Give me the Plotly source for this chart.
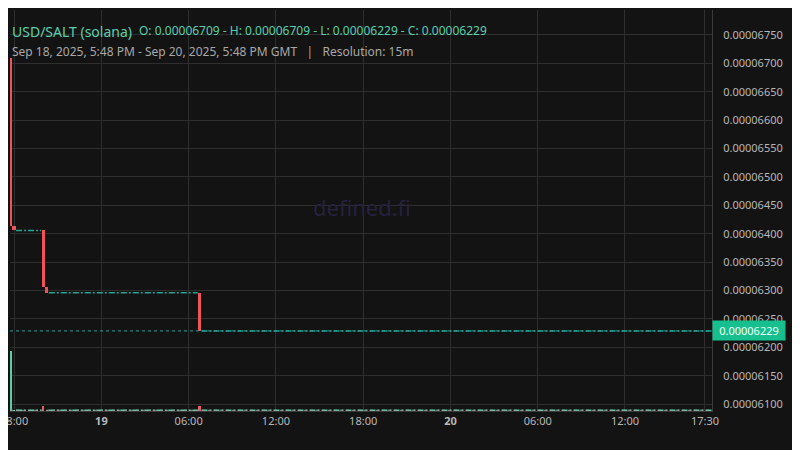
import pandas as pd
import plotly.graph_objects as go

# 15m candles that moved (all others were flat)
candle_time = ["2025-09-18 17:45", "2025-09-18 18:00", "2025-09-18 20:00",
               "2025-09-18 20:15", "2025-09-19 06:45"]
candle_open = [0.00006709, 0.00006414, 0.00006406, 0.00006307, 0.00006296]
candle_close = [0.00006414, 0.00006406, 0.00006307, 0.00006296, 0.00006229]
candle_volume = [1000, 4, 85, 6, 80]

# flat stretches (open = high = low = close, no volume)
flat_from = ["2025-09-18 18:08", "2025-09-18 20:23", "2025-09-19 06:53"]
flat_to = ["2025-09-18 19:52", "2025-09-19 06:37", "2025-09-20 17:58"]
flat_price = [0.00006406, 0.00006296, 0.00006229]
flat_volume = [0, 0, 0]

x_ticks = ["2025-09-18 18:00", "2025-09-19 00:00", "2025-09-19 06:00", "2025-09-19 12:00",
           "2025-09-19 18:00", "2025-09-20 00:00", "2025-09-20 06:00", "2025-09-20 12:00",
           "2025-09-20 17:30"]
x_labels = ["18:00", "<b>19</b>", "06:00", "12:00", "18:00", "<b>20</b>", "06:00", "12:00", "17:30"]

bg = "#131313"
grid = "#2e2e2e"
red = "#f0525a"
teal = "#22a396"
label_col = "#b8b8b8"

df = pd.DataFrame({"t": pd.to_datetime(candle_time), "o": candle_open,
                   "c": candle_close, "v": candle_volume})
df["lo"] = df[["o", "c"]].min(axis=1)
df["h"] = (df["o"] - df["c"]).abs()
bar_w = 15 * 60 * 1000 * 0.9

fig = go.Figure()

# flat candles show up as broken teal lines
for a, b, p in zip(flat_from, flat_to, flat_price):
    fig.add_trace(go.Scatter(x=[a, b], y=[p, p], mode="lines",
                             line=dict(color=teal, width=1.5, dash="6px,2px,2px,2px"),
                             hoverinfo="skip", showlegend=False))

fig.add_trace(go.Bar(x=df["t"], y=df["h"], base=df["lo"], width=bar_w,
                     marker=dict(color=[red if o > c else teal for o, c in zip(df["o"], df["c"])],
                                 line_width=0),
                     showlegend=False))

# volume overlay
fig.add_trace(go.Bar(x=df["t"], y=df["v"], width=bar_w * 0.7, yaxis="y2",
                     marker=dict(color=["#4fd1a5", "#4fd1a5", "#e0606e", "#e0606e", "#e0606e"],
                                 line_width=0),
                     showlegend=False))
for a, b, v in zip(flat_from, flat_to, flat_volume):
    fig.add_trace(go.Scatter(x=[a, b], y=[v + 12, v + 12], mode="lines", yaxis="y2",
                             line=dict(color="#4fd1a5", width=1.5, dash="6px,2px,2px,2px"),
                             hoverinfo="skip", showlegend=False))

last = candle_close[-1]
fig.add_shape(type="line", xref="paper", x0=0, x1=1, y0=last, y1=last,
              line=dict(color=teal, width=1, dash="dot"))
fig.add_shape(type="line", xref="paper", yref="y2", x0=0, x1=1, y0=12, y1=12,
              line=dict(color="#9a9a9a", width=1, dash="dot"))

# header box hides the grid behind the legend text
fig.add_shape(type="rect", xref="paper", yref="paper", x0=-0.02, x1=0.694, y0=0.888, y1=1.0,
              fillcolor=bg, line_width=0, layer="between")

fig.add_annotation(xref="paper", yref="y", x=1, y=last, xanchor="left", showarrow=False,
                   text=f"{last:.8f}", bgcolor="#17bf8e", borderpad=2, width=68, align="center",
                   font=dict(color="#f0fff8", size=11))

fig.add_annotation(xref="paper", yref="paper", x=0, y=0.975, xanchor="left", showarrow=False,
                   text="USD/SALT (solana)", font=dict(color="#5ccfae", size=14))
fig.add_annotation(xref="paper", yref="paper", x=0.181, y=0.974, xanchor="left", showarrow=False,
                   text=f"O: {max(candle_open):.8f} - H: {max(candle_open):.8f} - "
                        f"L: {min(candle_close):.8f} - C: {last:.8f}",
                   font=dict(color="#5ccfae", size=12))
fig.add_annotation(xref="paper", yref="paper", x=0, y=0.922, xanchor="left", showarrow=False,
                   text="Sep 18, 2025, 5:48 PM - Sep 20, 2025, 5:48 PM GMT&nbsp;&nbsp;&nbsp;|&nbsp;&nbsp;&nbsp;Resolution: 15m",
                   font=dict(color="#a8a8a8", size=12))
fig.add_annotation(xref="paper", yref="paper", x=0.501, y=0.508, showarrow=False,
                   text="defined.fi", font=dict(color="#25223d", size=22))

fig.update_layout(
    width=800, height=450,
    margin=dict(l=2, r=96, t=2, b=47),
    paper_bgcolor=bg, plot_bgcolor=bg,
    font=dict(family="Noto Sans", color=label_col, size=11),
    barmode="overlay", bargap=0,
    xaxis=dict(range=["2025-09-18 17:43", "2025-09-20 17:59"], tickvals=x_ticks, ticktext=x_labels,
               showgrid=True, gridcolor=grid, showline=True, linecolor="#3a3a3a",
               zeroline=False, automargin=False, ticklabeloverflow="allow",
               tickfont=dict(color=label_col, size=11)),
    yaxis=dict(side="right", range=[0.00006088, 0.00006794], dtick=0.0000005, tickformat=".8f",
               showgrid=True, gridcolor=grid, showline=True, linecolor="#3a3a3a",
               zeroline=False, automargin=False, ticklabelstandoff=8,
               tickfont=dict(color=label_col, size=11)),
    yaxis2=dict(overlaying="y", range=[0, 6700], visible=False, showgrid=False),
)

fig.write_html("out.html")
